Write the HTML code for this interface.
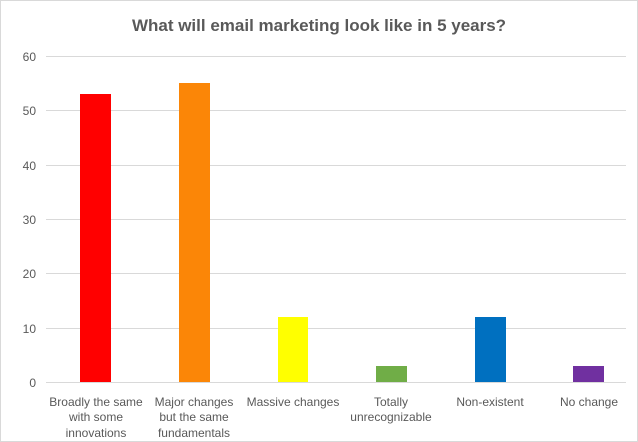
<!DOCTYPE html><html><head><style>body{margin:0}</style></head><body>
<svg width="638" height="442" xmlns="http://www.w3.org/2000/svg" style="display:block;font-family:'Liberation Sans',sans-serif">
<rect x="0.5" y="0.5" width="637" height="441" fill="#fff" stroke="#d9d9d9"/>
<text x="319" y="31" text-anchor="middle" font-size="17" font-weight="bold" fill="#595959">What will email marketing look like in 5 years?</text>
<g stroke="#d9d9d9" stroke-width="1">
<line x1="46" x2="626" y1="56.5" y2="56.5"/><line x1="46" x2="626" y1="110.5" y2="110.5"/><line x1="46" x2="626" y1="165.5" y2="165.5"/><line x1="46" x2="626" y1="219.5" y2="219.5"/><line x1="46" x2="626" y1="273.5" y2="273.5"/><line x1="46" x2="626" y1="328.5" y2="328.5"/><line x1="46" x2="626" y1="382.5" y2="382.5"/>
</g>
<g font-size="12" fill="#595959" text-anchor="end">
<text x="36" y="61">60</text><text x="36" y="115">50</text><text x="36" y="170">40</text><text x="36" y="224">30</text><text x="36" y="278">20</text><text x="36" y="333">10</text><text x="36" y="387">0</text>
</g>
<rect x="80" y="94" width="31" height="288" fill="#ff0000"/>
<rect x="179" y="83" width="31" height="299" fill="#fb8607"/>
<rect x="278" y="317" width="30" height="65" fill="#ffff00"/>
<rect x="376" y="366" width="31" height="16" fill="#70ad47"/>
<rect x="475" y="317" width="31" height="65" fill="#0070c0"/>
<rect x="573" y="366" width="31" height="16" fill="#7030a0"/>
<g font-size="12" fill="#595959" text-anchor="middle">
<text x="96" y="406">Broadly the same</text><text x="96" y="421">with some</text><text x="96" y="437">innovations</text>
<text x="194" y="406">Major changes</text><text x="194" y="421">but the same</text><text x="194" y="437">fundamentals</text>
<text x="293" y="406">Massive changes</text>
<text x="391" y="406">Totally</text><text x="391" y="421">unrecognizable</text>
<text x="490" y="406">Non-existent</text>
<text x="589" y="406">No change</text>
</g>
</svg></body></html>
